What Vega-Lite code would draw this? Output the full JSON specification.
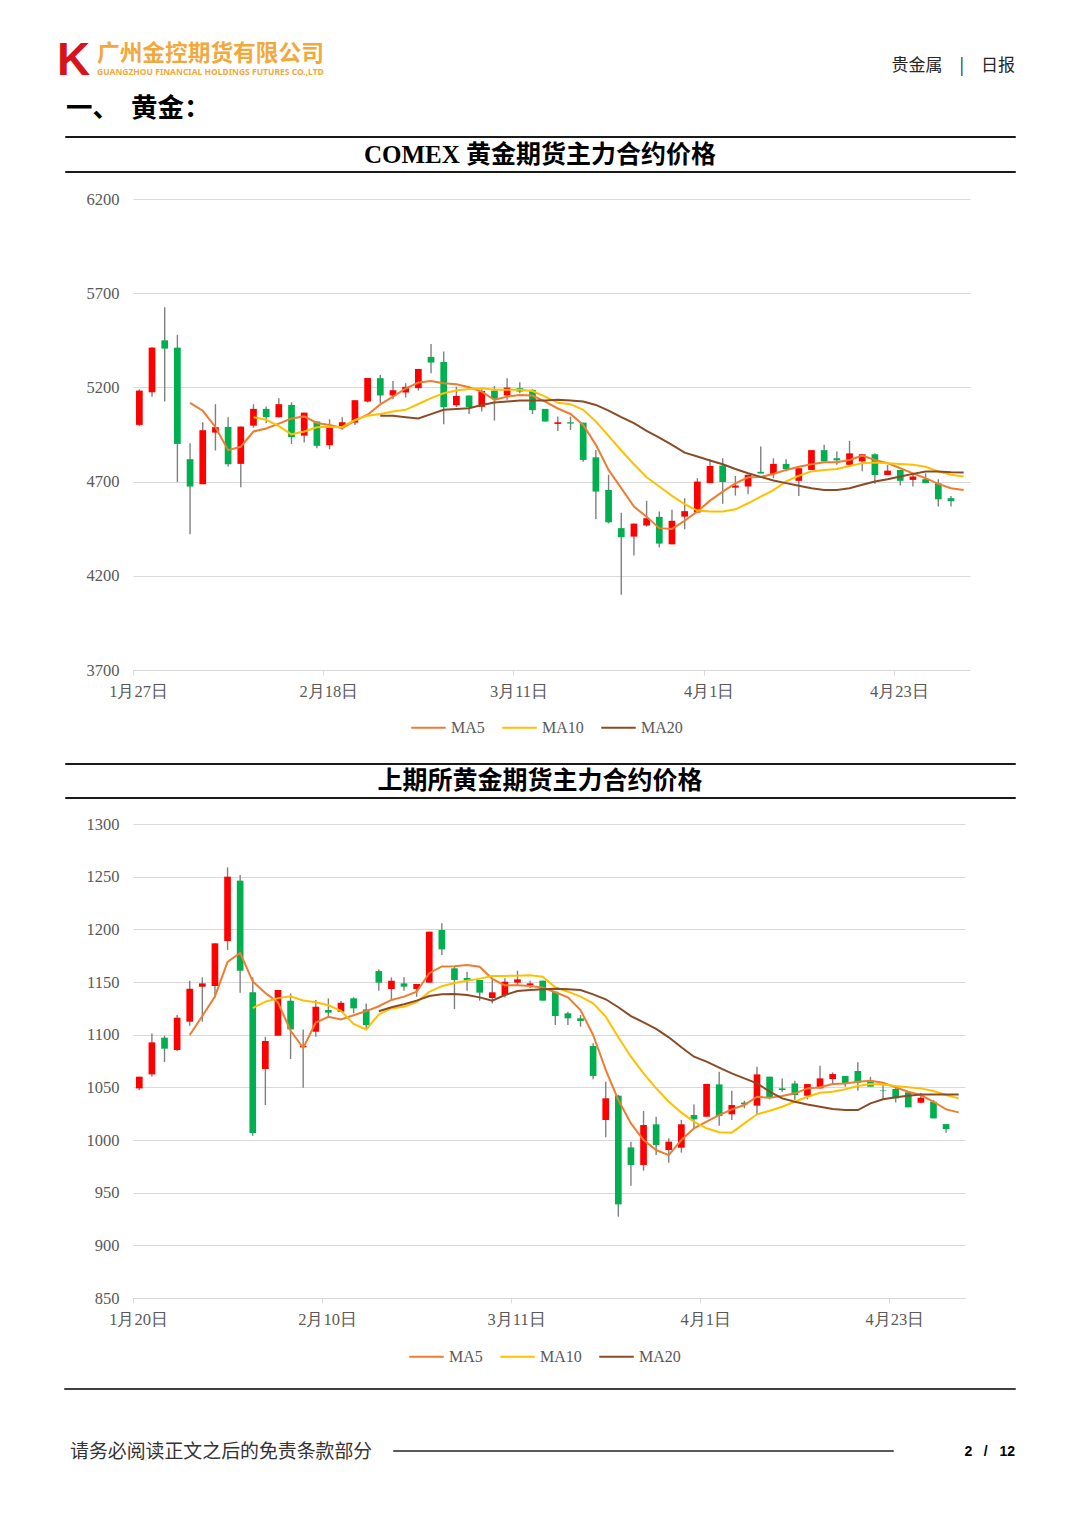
{
"$schema": "https://vega.github.io/schema/vega-lite/v6.json",
"padding": 0,
"background": "white",
"bounds": "flush",
"spacing": 0,
"resolve": {"scale": {"color": "independent"}, "legend": {"color": "independent"}},
"config": {"view": {"stroke": null}, "concat": {"spacing": 0}, "title": {"offset": 0, "frame": "group", "baseline": "alphabetic", "orient": "top"}},
"datasets": {
"comex": [
{"d":"1月27日","o":5001,"h":5190,"l":4996,"c":5183},
{"d":"1月28日","o":5174,"h":5415,"l":5151,"c":5411},
{"d":"1月29日","o":5450,"h":5625,"l":5125,"c":5406},
{"d":"1月30日","o":5411,"h":5479,"l":4698,"c":4900},
{"d":"2月2日","o":4819,"h":4904,"l":4421,"c":4674,"MA5":5118},
{"d":"2月3日","o":4686,"h":5015,"l":4686,"c":4973,"MA5":5076},
{"d":"2月4日","o":4960,"h":5111,"l":4865,"c":4989,"MA5":4990},
{"d":"2月5日","o":4990,"h":5042,"l":4780,"c":4792,"MA5":4867},
{"d":"2月6日","o":4794,"h":4992,"l":4670,"c":4992,"MA5":4885},
{"d":"2月9日","o":4997,"h":5111,"l":4986,"c":5086,"MA5":4966,"MA10":5042},
{"d":"2月10日","o":5086,"h":5098,"l":5010,"c":5042,"MA5":4982,"MA10":5028},
{"d":"2月11日","o":5042,"h":5143,"l":5040,"c":5111,"MA5":5008,"MA10":4994},
{"d":"2月12日","o":5107,"h":5121,"l":4900,"c":4936,"MA5":5035,"MA10":4951},
{"d":"2月13日","o":4944,"h":5066,"l":4907,"c":5066,"MA5":5046,"MA10":4966},
{"d":"2月17日","o":5019,"h":5019,"l":4877,"c":4890,"MA5":5011,"MA10":4988},
{"d":"2月18日","o":4893,"h":5031,"l":4872,"c":4992,"MA5":5000,"MA10":4991},
{"d":"2月19日","o":4992,"h":5042,"l":4975,"c":5015,"MA5":4984,"MA10":4990},
{"d":"2月20日","o":5013,"h":5132,"l":5001,"c":5132,"MA5":5024,"MA10":5027},
{"d":"2月23日","o":5125,"h":5250,"l":5120,"c":5250,"MA5":5055,"MA10":5050},
{"d":"2月24日","o":5249,"h":5266,"l":5116,"c":5157,"MA5":5110,"MA10":5059,"MA20":5050},
{"d":"2月25日","o":5157,"h":5234,"l":5137,"c":5185,"MA5":5151,"MA10":5072,"MA20":5049},
{"d":"2月26日","o":5173,"h":5222,"l":5146,"c":5203,"MA5":5194,"MA10":5081,"MA20":5042},
{"d":"2月27日","o":5196,"h":5298,"l":5183,"c":5298,"MA5":5226,"MA10":5112,"MA20":5035},
{"d":"3月2日","o":5362,"h":5431,"l":5275,"c":5332,"MA5":5234,"MA10":5143,"MA20":5058},
{"d":"3月3日","o":5335,"h":5390,"l":5004,"c":5095,"MA5":5222,"MA10":5169,"MA20":5081},
{"d":"3月4日","o":5105,"h":5204,"l":5095,"c":5155,"MA5":5217,"MA10":5183,"MA20":5086},
{"d":"3月5日","o":5157,"h":5157,"l":5059,"c":5095,"MA5":5201,"MA10":5192,"MA20":5089},
{"d":"3月6日","o":5097,"h":5195,"l":5072,"c":5181,"MA5":5178,"MA10":5196,"MA20":5107},
{"d":"3月9日","o":5183,"h":5208,"l":5024,"c":5139,"MA5":5134,"MA10":5187,"MA20":5120},
{"d":"3月10日","o":5157,"h":5249,"l":5134,"c":5199,"MA5":5151,"MA10":5187,"MA20":5125},
{"d":"3月11日","o":5196,"h":5227,"l":5169,"c":5178,"MA5":5160,"MA10":5187,"MA20":5130},
{"d":"3月12日","o":5187,"h":5190,"l":5058,"c":5079,"MA5":5157,"MA10":5181,"MA20":5130},
{"d":"3月13日","o":5086,"h":5086,"l":5019,"c":5019,"MA5":5125,"MA10":5151,"MA20":5130},
{"d":"3月16日","o":5006,"h":5045,"l":4969,"c":5015,"MA5":5088,"MA10":5118,"MA20":5134},
{"d":"3月17日","o":5015,"h":5045,"l":4974,"c":5008,"MA5":5059,"MA10":5111,"MA20":5130},
{"d":"3月18日","o":5013,"h":5013,"l":4806,"c":4815,"MA5":5001,"MA10":5081,"MA20":5125},
{"d":"3月19日","o":4829,"h":4868,"l":4502,"c":4647,"MA5":4895,"MA10":5019,"MA20":5107},
{"d":"3月20日","o":4656,"h":4736,"l":4478,"c":4484,"MA5":4762,"MA10":4943,"MA20":5077},
{"d":"3月23日","o":4453,"h":4535,"l":4099,"c":4405,"MA5":4665,"MA10":4865,"MA20":5042},
{"d":"3月24日","o":4408,"h":4477,"l":4308,"c":4477,"MA5":4567,"MA10":4792,"MA20":5010},
{"d":"3月25日","o":4467,"h":4598,"l":4461,"c":4506,"MA5":4514,"MA10":4723,"MA20":4969},
{"d":"3月26日","o":4513,"h":4541,"l":4350,"c":4371,"MA5":4453,"MA10":4674,"MA20":4934},
{"d":"3月27日","o":4367,"h":4550,"l":4367,"c":4492,"MA5":4449,"MA10":4624,"MA20":4895},
{"d":"3月30日","o":4514,"h":4612,"l":4447,"c":4543,"MA5":4492,"MA10":4580,"MA20":4854},
{"d":"3月31日","o":4536,"h":4718,"l":4536,"c":4700,"MA5":4541,"MA10":4546,"MA20":4833},
{"d":"4月1日","o":4692,"h":4819,"l":4692,"c":4783,"MA5":4599,"MA10":4541,"MA20":4812},
{"d":"4月2日","o":4785,"h":4824,"l":4582,"c":4698,"MA5":4647,"MA10":4541,"MA20":4792},
{"d":"4月6日","o":4668,"h":4730,"l":4626,"c":4679,"MA5":4691,"MA10":4553,"MA20":4767},
{"d":"4月7日","o":4674,"h":4736,"l":4633,"c":4736,"MA5":4723,"MA10":4585,"MA20":4744},
{"d":"4月8日","o":4752,"h":4886,"l":4743,"c":4743,"MA5":4725,"MA10":4620,"MA20":4725},
{"d":"4月9日","o":4741,"h":4824,"l":4718,"c":4794,"MA5":4740,"MA10":4655,"MA20":4706},
{"d":"4月10日","o":4794,"h":4819,"l":4755,"c":4766,"MA5":4762,"MA10":4701,"MA20":4692},
{"d":"4月13日","o":4704,"h":4771,"l":4624,"c":4771,"MA5":4779,"MA10":4731,"MA20":4678},
{"d":"4月14日","o":4762,"h":4867,"l":4762,"c":4867,"MA5":4792,"MA10":4754,"MA20":4665},
{"d":"4月15日","o":4867,"h":4895,"l":4807,"c":4807,"MA5":4803,"MA10":4762,"MA20":4656},
{"d":"4月16日","o":4824,"h":4860,"l":4789,"c":4813,"MA5":4803,"MA10":4767,"MA20":4656},
{"d":"4月17日","o":4789,"h":4916,"l":4789,"c":4850,"MA5":4815,"MA10":4783,"MA20":4665},
{"d":"4月20日","o":4807,"h":4845,"l":4755,"c":4845,"MA5":4838,"MA10":4798,"MA20":4683},
{"d":"4月21日","o":4845,"h":4850,"l":4688,"c":4735,"MA5":4815,"MA10":4801,"MA20":4701},
{"d":"4月22日","o":4735,"h":4789,"l":4735,"c":4758,"MA5":4798,"MA10":4798,"MA20":4713},
{"d":"4月23日","o":4762,"h":4762,"l":4679,"c":4704,"MA5":4771,"MA10":4794,"MA20":4727},
{"d":"4月24日","o":4709,"h":4744,"l":4674,"c":4727,"MA5":4744,"MA10":4789,"MA20":4741},
{"d":"4月27日","o":4713,"h":4744,"l":4692,"c":4692,"MA5":4718,"MA10":4779,"MA20":4754},
{"d":"4月28日","o":4691,"h":4713,"l":4568,"c":4606,"MA5":4688,"MA10":4754,"MA20":4754},
{"d":"4月29日","o":4612,"h":4624,"l":4568,"c":4596,"MA5":4665,"MA10":4736,"MA20":4750},
{"d":"4月30日","MA5":4656,"MA10":4727,"MA20":4748}
],
"shfe": [
{"d":"1月20日","o":1049,"h":1060.1,"l":1047.4,"c":1060.1},
{"d":"1月21日","o":1062.3,"h":1101.2,"l":1060.1,"c":1092.7},
{"d":"1月22日","o":1097.1,"h":1099,"l":1074,"c":1086.7},
{"d":"1月23日","o":1085.4,"h":1118.6,"l":1084.5,"c":1116.1},
{"d":"1月26日","o":1112.3,"h":1151.2,"l":1108.5,"c":1143.6,"MA5":1099.7},
{"d":"1月27日","o":1145.5,"h":1154.4,"l":1112.3,"c":1148.7,"MA5":1117.7},
{"d":"1月28日","o":1146.2,"h":1186.7,"l":1135.4,"c":1186.7,"MA5":1136.3},
{"d":"1月29日","o":1188.9,"h":1258.8,"l":1180.4,"c":1250,"MA5":1169},
{"d":"1月30日","o":1246.2,"h":1251.6,"l":1139.8,"c":1160.7,"MA5":1177.5},
{"d":"2月2日","o":1140.2,"h":1154.4,"l":1004,"c":1006.6,"MA5":1150.5,"MA10":1125.2},
{"d":"2月3日","o":1067.4,"h":1098,"l":1033.2,"c":1094,"MA5":1139.6,"MA10":1131.3},
{"d":"2月4日","o":1099,"h":1142.4,"l":1099,"c":1142.4,"MA5":1130.7,"MA10":1134.7},
{"d":"2月5日","o":1132.2,"h":1139.2,"l":1076.9,"c":1105,"MA5":1103.7,"MA10":1136.5},
{"d":"2月6日","o":1088,"h":1105,"l":1049.6,"c":1089.5,"MA5":1087.5,"MA10":1132.4},
{"d":"2月9日","o":1102.8,"h":1132.9,"l":1098,"c":1126.5,"MA5":1111.5,"MA10":1130.7},
{"d":"2月10日","o":1123.4,"h":1134.5,"l":1117,"c":1120.9,"MA5":1116.9,"MA10":1127.9},
{"d":"2月11日","o":1121.8,"h":1132,"l":1121.8,"c":1130.3,"MA5":1114.4,"MA10":1122.6},
{"d":"2月12日","o":1134.5,"h":1135.5,"l":1120.2,"c":1125,"MA5":1118.4,"MA10":1110.1},
{"d":"2月13日","o":1124,"h":1129.7,"l":1106,"c":1109.2,"MA5":1122.4,"MA10":1104.9},
{"d":"2月24日","o":1160.4,"h":1162,"l":1141.8,"c":1149.4,"MA5":1127,"MA10":1119.2,"MA20":1122.2},
{"d":"2月25日","o":1143.4,"h":1154.4,"l":1133.5,"c":1151.3,"MA5":1133,"MA10":1124.9,"MA20":1126},
{"d":"2月26日","o":1148.7,"h":1154.4,"l":1141.8,"c":1145.6,"MA5":1136.1,"MA10":1126.5,"MA20":1128.8},
{"d":"2月27日","o":1143.4,"h":1148.1,"l":1136,"c":1148.1,"MA5":1140.7,"MA10":1130.8,"MA20":1132.3},
{"d":"3月2日","o":1149.4,"h":1197.8,"l":1149.4,"c":1197.8,"MA5":1158.4,"MA10":1140.6,"MA20":1136.7},
{"d":"3月3日","o":1199.4,"h":1205.7,"l":1175.6,"c":1181,"MA5":1164.8,"MA10":1146.0,"MA20":1138.3},
{"d":"3月4日","o":1163,"h":1164.5,"l":1124.3,"c":1151.9,"MA5":1164.9,"MA10":1149.1,"MA20":1138.6},
{"d":"3月5日","o":1153.8,"h":1159.8,"l":1141.8,"c":1151.9,"MA5":1166.1,"MA10":1151.1,"MA20":1137.6},
{"d":"3月6日","o":1151.9,"h":1151.9,"l":1132.3,"c":1139.9,"MA5":1164.5,"MA10":1153.2,"MA20":1135.4},
{"d":"3月9日","o":1134.8,"h":1153.5,"l":1129.7,"c":1140.2,"MA5":1153,"MA10":1155.7,"MA20":1132.3},
{"d":"3月10日","o":1137.6,"h":1153.5,"l":1135.4,"c":1150.3,"MA5":1146.8,"MA10":1155.8,"MA20":1137.6},
{"d":"3月11日","o":1149.4,"h":1160.8,"l":1146.2,"c":1152.5,"MA5":1147,"MA10":1156,"MA20":1141.4},
{"d":"3月12日","o":1147.1,"h":1151.3,"l":1144,"c":1148.7,"MA5":1146.3,"MA10":1156.3,"MA20":1142.4},
{"d":"3月13日","o":1151.3,"h":1151.3,"l":1132.3,"c":1132.3,"MA5":1144.8,"MA10":1155,"MA20":1143},
{"d":"3月16日","o":1140.8,"h":1140.8,"l":1109.2,"c":1117.7,"MA5":1140.3,"MA10":1145,"MA20":1143.5},
{"d":"3月17日","o":1120.3,"h":1121.8,"l":1109.2,"c":1115.5,"MA5":1135.4,"MA10":1140.8,"MA20":1143},
{"d":"3月18日","o":1115.5,"h":1118.7,"l":1107.6,"c":1113,"MA5":1123.4,"MA10":1136.1,"MA20":1142.4},
{"d":"3月19日","o":1089.2,"h":1091.8,"l":1057.6,"c":1060.8,"MA5":1099.7,"MA10":1129.8,"MA20":1138.3},
{"d":"3月20日","o":1019,"h":1055.4,"l":1002.5,"c":1039.6,"MA5":1066.5,"MA10":1117.1,"MA20":1133.6},
{"d":"3月23日","o":1042.1,"h":1042.7,"l":927.2,"c":938.9,"MA5":1038,"MA10":1097.5,"MA20":1126},
{"d":"3月24日","o":993,"h":998.4,"l":956.6,"c":976.3,"MA5":1015.8,"MA10":1079.1,"MA20":1117.7},
{"d":"3月25日","o":976.3,"h":1027.5,"l":970.9,"c":1014.2,"MA5":1000,"MA10":1063.3,"MA20":1111.7},
{"d":"3月26日","o":1014.9,"h":1022.1,"l":985.7,"c":995.2,"MA5":990.5,"MA10":1049.1,"MA20":1105.4},
{"d":"3月27日","o":990.5,"h":1001.6,"l":978.5,"c":998.4,"MA5":985.7,"MA10":1036.4,"MA20":1097.5},
{"d":"3月30日","o":992.7,"h":1019,"l":988,"c":1014.9,"MA5":1000,"MA10":1026,"MA20":1088},
{"d":"3月31日","o":1023.7,"h":1033.8,"l":1011.1,"c":1019.6,"MA5":1011.1,"MA10":1017.4,"MA20":1079.1},
{"d":"4月1日","o":1022.1,"h":1053.2,"l":1022.1,"c":1053.2,"MA5":1017.4,"MA10":1011.1,"MA20":1074.4},
{"d":"4月2日","o":1052.8,"h":1064.9,"l":1013.6,"c":1022.8,"MA5":1023.7,"MA10":1007.3,"MA20":1068.7},
{"d":"4月3日","o":1024.4,"h":1046.8,"l":1019,"c":1033.2,"MA5":1029.1,"MA10":1007,"MA20":1063.3},
{"d":"4月7日","o":1035.5,"h":1037.3,"l":1030.1,"c":1033.8,"MA5":1033.2,"MA10":1015.8,"MA20":1058.5},
{"d":"4月8日","o":1032.6,"h":1069.6,"l":1023.7,"c":1062.3,"MA5":1041.1,"MA10":1024.4,"MA20":1053.8},
{"d":"4月9日","o":1060.1,"h":1060.1,"l":1038.6,"c":1040.1,"MA5":1040,"MA10":1027.7,"MA20":1046},
{"d":"4月10日","o":1049,"h":1058.5,"l":1045.8,"c":1047.4,"MA5":1041.7,"MA10":1031.6,"MA20":1039.5},
{"d":"4月13日","o":1053.7,"h":1056.3,"l":1037.9,"c":1042.7,"MA5":1044.3,"MA10":1036.3,"MA20":1036.3},
{"d":"4月14日","o":1042,"h":1053.1,"l":1038.6,"c":1053.1,"MA5":1049,"MA10":1041.1,"MA20":1033.8},
{"d":"4月15日","o":1049,"h":1070.5,"l":1049,"c":1058.5,"MA5":1050,"MA10":1044.9,"MA20":1031.6},
{"d":"4月16日","o":1057.9,"h":1064.2,"l":1053.7,"c":1062.6,"MA5":1053.1,"MA10":1045.8,"MA20":1029.4},
{"d":"4月17日","o":1060.7,"h":1060.7,"l":1050.6,"c":1053.7,"MA5":1053.7,"MA10":1048.1,"MA20":1028.4},
{"d":"4月20日","o":1065.5,"h":1073.7,"l":1046.8,"c":1054.4,"MA5":1055.3,"MA10":1051.2,"MA20":1028.4},
{"d":"4月21日","o":1056.3,"h":1060.1,"l":1050.6,"c":1050.6,"MA5":1056.3,"MA10":1053.1,"MA20":1034.8},
{"d":"4月22日","o":1047.5,"h":1054.4,"l":1038.6,"c":1047,"MA5":1054.4,"MA10":1052.8,"MA20":1038.6},
{"d":"4月23日","o":1048.4,"h":1050.6,"l":1035.7,"c":1039.5,"MA5":1050,"MA10":1051.2,"MA20":1040.5},
{"d":"4月24日","o":1045.2,"h":1045.2,"l":1031,"c":1031,"MA5":1045.8,"MA10":1050,"MA20":1042},
{"d":"4月27日","o":1035.4,"h":1044.9,"l":1035,"c":1040.1,"MA5":1042.7,"MA10":1049,"MA20":1043.3},
{"d":"4月28日","o":1036.3,"h":1037.9,"l":1020.5,"c":1020.5,"MA5":1036.3,"MA10":1046.5,"MA20":1043.3},
{"d":"4月29日","o":1015.1,"h":1015.1,"l":1006.9,"c":1010.4,"MA5":1029.1,"MA10":1042.7,"MA20":1043.3},
{"d":"4月30日","MA5":1026.2,"MA10":1039.5,"MA20":1043.3}
]
},
"vconcat": [
{"hconcat": [
 {"width": 57, "height": 62, "data": {"values": []}, "mark": {"type": "point", "opacity": 0}},
 {"width": 40, "height": 62, "data": {"values": []}, "mark": {"type": "point", "opacity": 0},
  "title": {"text": "K", "anchor": "start", "baseline": "alphabetic", "dy": 125, "font": "Liberation Sans", "fontSize": 46, "fontWeight": "bold", "color": "#D7141A"}},
 {"width": 796, "height": 62, "data": {"values": []}, "mark": {"type": "point", "opacity": 0},
  "title": {"text": "广州金控期货有限公司", "anchor": "start", "baseline": "alphabetic", "dy": 88, "font": "Noto Sans CJK SC", "fontSize": 22.7, "fontWeight": "bold", "color": "#F2A93B"}},
 {"width": 122, "height": 62, "data": {"values": []}, "mark": {"type": "point", "opacity": 0},
  "title": {"text": "贵金属　|　日报", "anchor": "end", "baseline": "alphabetic", "dy": 92, "font": "Noto Sans CJK SC", "fontSize": 17, "fontWeight": "normal", "color": "#262626"}}
], "spacing": 0, "bounds": "flush"},
{"width": 1, "height": 62, "data": {"values": []}, "mark": {"type": "point", "opacity": 0}},
{"hconcat": [
 {"width": 97, "height": 74, "data": {"values": []}, "mark": {"type": "point", "opacity": 0},
  "title": {"text": "一、\u00a0\u00a0黄金：", "anchor": "start", "baseline": "alphabetic", "dx": 66, "dy": 85, "font": "Noto Sans CJK SC", "fontSize": 26.5, "fontWeight": "bold", "color": "#000000"}},
 {"width": 300, "height": 74, "data": {"values": []}, "mark": {"type": "point", "opacity": 0},
  "title": {"text": "GUANGZHOU FINANCIAL HOLDINGS FUTURES CO.,LTD", "anchor": "start", "baseline": "alphabetic", "dy": 25, "font": "Noto Sans", "fontSize": 8.5, "fontWeight": "bold", "color": "#F2A93B"}}
], "spacing": 0, "bounds": "flush"},
{"width": 1, "height": 74, "data": {"values": []}, "mark": {"type": "point", "opacity": 0}},
{"hconcat": [
 {"width": 65, "height": 1, "data": {"values": []}, "mark": {"type": "point", "opacity": 0}},
 {"width": 950, "height": 1, "data": {"values": []}, "mark": {"type": "point", "opacity": 0}, "view": {"stroke": "#1a1a1a", "strokeWidth": 1}}
], "spacing": 0, "bounds": "flush"},
{"width": 1, "height": 1, "data": {"values": []}, "mark": {"type": "point", "opacity": 0}},
{"hconcat": [
 {"width": 65, "height": 34, "data": {"values": []}, "mark": {"type": "point", "opacity": 0}},
 {"width": 950, "height": 34, "data": {"values": []}, "mark": {"type": "point", "opacity": 0},
  "title": {"text": "COMEX 黄金期货主力合约价格", "anchor": "middle", "baseline": "alphabetic", "dy": 55, "font": "Liberation Serif, Noto Sans CJK SC", "fontSize": 25, "fontWeight": "bold", "color": "#000000"}}
], "spacing": 0, "bounds": "flush"},
{"width": 1, "height": 34, "data": {"values": []}, "mark": {"type": "point", "opacity": 0}},
{"hconcat": [
 {"width": 65, "height": 1, "data": {"values": []}, "mark": {"type": "point", "opacity": 0}},
 {"width": 950, "height": 1, "data": {"values": []}, "mark": {"type": "point", "opacity": 0}, "view": {"stroke": "#1a1a1a", "strokeWidth": 1}}
], "spacing": 0, "bounds": "flush"},
{"width": 1, "height": 28, "data": {"values": []}, "mark": {"type": "point", "opacity": 0}},
{"hconcat": [
 {"width": 133, "height": 471, "data": {"values": []}, "mark": {"type": "point", "opacity": 0}},
 {"width": 837, "height": 471,
  "data": {"name": "comex"},
  "encoding": {"x": {"field": "d", "type": "ordinal",
    "scale": {"domain": ["1月27日","1月28日","1月29日","1月30日","2月2日","2月3日","2月4日","2月5日","2月6日","2月9日","2月10日","2月11日","2月12日","2月13日","2月17日","2月18日","2月19日","2月20日","2月23日","2月24日","2月25日","2月26日","2月27日","3月2日","3月3日","3月4日","3月5日","3月6日","3月9日","3月10日","3月11日","3月12日","3月13日","3月16日","3月17日","3月18日","3月19日","3月20日","3月23日","3月24日","3月25日","3月26日","3月27日","3月30日","3月31日","4月1日","4月2日","4月6日","4月7日","4月8日","4月9日","4月10日","4月13日","4月14日","4月15日","4月16日","4月17日","4月20日","4月21日","4月22日","4月23日","4月24日","4月27日","4月28日","4月29日","4月30日"], "paddingInner": 0, "paddingOuter": 0},
    "axis": {"values": ["1月27日","2月18日","3月11日","4月1日","4月23日"], "title": null, "tickOffset": -6.3, "labelOffset": 5, "labelAngle": 0, "tickSize": 5, "tickColor": "#D9D9D9", "domainColor": "#D9D9D9", "labelFont": "Liberation Serif", "labelFontSize": 16.5, "labelColor": "#595959", "labelPadding": 8, "grid": false}}},
  "layer": [
   {"mark": {"type": "rule", "color": "#808080", "strokeWidth": 1.4},
    "encoding": {"y": {"field": "l", "type": "quantitative", "scale": {"domain": [3700, 6200], "nice": false, "zero": false},
      "axis": {"values": [3700,4200,4700,5200,5700,6200], "format": "d", "title": null, "domain": false, "ticks": false, "grid": true, "gridColor": "#D9D9D9", "gridWidth": 1, "labelFont": "Liberation Serif", "labelFontSize": 16.5, "labelColor": "#595959", "labelPadding": 14}},
     "y2": {"field": "h"}}},
   {"mark": {"type": "bar", "width": {"band": 0.53}},
    "encoding": {"y": {"field": "o", "type": "quantitative", "scale": {"domain": [3700, 6200], "nice": false, "zero": false},
      "axis": {"values": [3700,4200,4700,5200,5700,6200], "format": "d", "title": null, "domain": false, "ticks": false, "grid": true, "gridColor": "#D9D9D9", "gridWidth": 1, "labelFont": "Liberation Serif", "labelFontSize": 16.5, "labelColor": "#595959", "labelPadding": 14}},
     "y2": {"field": "c"},
     "color": {"condition": {"test": "datum.c >= datum.o", "value": "#FF0000"}, "value": "#00B050"}}},
   {"transform": [{"fold": ["MA5","MA10","MA20"], "as": ["k","v"]}],
    "mark": {"type": "line", "strokeWidth": 2},
    "encoding": {"y": {"field": "v", "type": "quantitative", "scale": {"domain": [3700, 6200], "nice": false, "zero": false},
      "axis": {"values": [3700,4200,4700,5200,5700,6200], "format": "d", "title": null, "domain": false, "ticks": false, "grid": true, "gridColor": "#D9D9D9", "gridWidth": 1, "labelFont": "Liberation Serif", "labelFontSize": 16.5, "labelColor": "#595959", "labelPadding": 14}},
     "color": {"field": "k", "type": "nominal", "scale": {"domain": ["MA5","MA10","MA20"], "range": ["#ED7D31","#FFC000","#8A4B26"]},
       "legend": {"orient": "none", "legendX": 277, "legendY": 510, "direction": "horizontal", "title": null, "symbolType": "stroke", "symbolSize": 1190, "symbolStrokeWidth": 2, "labelFont": "Liberation Serif", "labelFontSize": 16, "labelColor": "#595959", "columnPadding": 13, "labelOffset": 4}},
     "order": {"value": null}}}
  ]}
], "spacing": 0, "bounds": "flush", "resolve": {"scale": {"color": "independent"}, "legend": {"color": "independent"}}},
{"width": 1, "height": 564, "data": {"values": []}, "mark": {"type": "point", "opacity": 0}},
{"hconcat": [
 {"width": 65, "height": 1, "data": {"values": []}, "mark": {"type": "point", "opacity": 0}},
 {"width": 950, "height": 1, "data": {"values": []}, "mark": {"type": "point", "opacity": 0}, "view": {"stroke": "#1a1a1a", "strokeWidth": 1}}
], "spacing": 0, "bounds": "flush"},
{"width": 1, "height": 1, "data": {"values": []}, "mark": {"type": "point", "opacity": 0}},
{"hconcat": [
 {"width": 65, "height": 33, "data": {"values": []}, "mark": {"type": "point", "opacity": 0}},
 {"width": 950, "height": 33, "data": {"values": []}, "mark": {"type": "point", "opacity": 0},
  "title": {"text": "上期所黄金期货主力合约价格", "anchor": "middle", "baseline": "alphabetic", "dy": 54, "font": "Noto Sans CJK SC", "fontSize": 25, "fontWeight": "bold", "color": "#000000"}}
], "spacing": 0, "bounds": "flush"},
{"width": 1, "height": 33, "data": {"values": []}, "mark": {"type": "point", "opacity": 0}},
{"hconcat": [
 {"width": 65, "height": 1, "data": {"values": []}, "mark": {"type": "point", "opacity": 0}},
 {"width": 950, "height": 1, "data": {"values": []}, "mark": {"type": "point", "opacity": 0}, "view": {"stroke": "#1a1a1a", "strokeWidth": 1}}
], "spacing": 0, "bounds": "flush"},
{"width": 1, "height": 27, "data": {"values": []}, "mark": {"type": "point", "opacity": 0}},
{"hconcat": [
 {"width": 133, "height": 474, "data": {"values": []}, "mark": {"type": "point", "opacity": 0}},
 {"width": 832, "height": 474,
  "data": {"name": "shfe"},
  "encoding": {"x": {"field": "d", "type": "ordinal",
    "scale": {"domain": ["1月20日","1月21日","1月22日","1月23日","1月26日","1月27日","1月28日","1月29日","1月30日","2月2日","2月3日","2月4日","2月5日","2月6日","2月9日","2月10日","2月11日","2月12日","2月13日","2月24日","2月25日","2月26日","2月27日","3月2日","3月3日","3月4日","3月5日","3月6日","3月9日","3月10日","3月11日","3月12日","3月13日","3月16日","3月17日","3月18日","3月19日","3月20日","3月23日","3月24日","3月25日","3月26日","3月27日","3月30日","3月31日","4月1日","4月2日","4月3日","4月7日","4月8日","4月9日","4月10日","4月13日","4月14日","4月15日","4月16日","4月17日","4月20日","4月21日","4月22日","4月23日","4月24日","4月27日","4月28日","4月29日","4月30日"], "paddingInner": 0, "paddingOuter": 0},
    "axis": {"values": ["1月20日","2月10日","3月11日","4月1日","4月23日"], "title": null, "tickOffset": -6.3, "labelOffset": 5, "labelAngle": 0, "tickSize": 5, "tickColor": "#D9D9D9", "domainColor": "#D9D9D9", "labelFont": "Liberation Serif", "labelFontSize": 16.5, "labelColor": "#595959", "labelPadding": 8, "grid": false}}},
  "layer": [
   {"mark": {"type": "rule", "color": "#808080", "strokeWidth": 1.4},
    "encoding": {"y": {"field": "l", "type": "quantitative", "scale": {"domain": [850, 1300], "nice": false, "zero": false},
      "axis": {"values": [850,900,950,1000,1050,1100,1150,1200,1250,1300], "format": "d", "title": null, "domain": false, "ticks": false, "grid": true, "gridColor": "#D9D9D9", "gridWidth": 1, "labelFont": "Liberation Serif", "labelFontSize": 16.5, "labelColor": "#595959", "labelPadding": 14}},
     "y2": {"field": "h"}}},
   {"mark": {"type": "bar", "width": {"band": 0.53}},
    "encoding": {"y": {"field": "o", "type": "quantitative", "scale": {"domain": [850, 1300], "nice": false, "zero": false},
      "axis": {"values": [850,900,950,1000,1050,1100,1150,1200,1250,1300], "format": "d", "title": null, "domain": false, "ticks": false, "grid": true, "gridColor": "#D9D9D9", "gridWidth": 1, "labelFont": "Liberation Serif", "labelFontSize": 16.5, "labelColor": "#595959", "labelPadding": 14}},
     "y2": {"field": "c"},
     "color": {"condition": {"test": "datum.c >= datum.o", "value": "#FF0000"}, "value": "#00B050"}}},
   {"transform": [{"fold": ["MA5","MA10","MA20"], "as": ["k","v"]}],
    "mark": {"type": "line", "strokeWidth": 2},
    "encoding": {"y": {"field": "v", "type": "quantitative", "scale": {"domain": [850, 1300], "nice": false, "zero": false},
      "axis": {"values": [850,900,950,1000,1050,1100,1150,1200,1250,1300], "format": "d", "title": null, "domain": false, "ticks": false, "grid": true, "gridColor": "#D9D9D9", "gridWidth": 1, "labelFont": "Liberation Serif", "labelFontSize": 16.5, "labelColor": "#595959", "labelPadding": 14}},
     "color": {"field": "k", "type": "nominal", "scale": {"domain": ["MA5","MA10","MA20"], "range": ["#ED7D31","#FFC000","#8A4B26"]},
       "legend": {"orient": "none", "legendX": 275, "legendY": 514, "direction": "horizontal", "title": null, "symbolType": "stroke", "symbolSize": 1190, "symbolStrokeWidth": 2, "labelFont": "Liberation Serif", "labelFontSize": 16, "labelColor": "#595959", "columnPadding": 13, "labelOffset": 4}},
     "order": {"value": null}}}
  ]}
], "spacing": 0, "bounds": "flush", "resolve": {"scale": {"color": "independent"}, "legend": {"color": "independent"}}},
{"width": 1, "height": 564, "data": {"values": []}, "mark": {"type": "point", "opacity": 0}},
{"hconcat": [
 {"width": 64, "height": 1, "data": {"values": []}, "mark": {"type": "point", "opacity": 0}},
 {"width": 951, "height": 1, "data": {"values": []}, "mark": {"type": "point", "opacity": 0}, "view": {"stroke": "#404040", "strokeWidth": 1}}
], "spacing": 0, "bounds": "flush"},
{"width": 1, "height": 62, "data": {"values": []}, "mark": {"type": "point", "opacity": 0}},
{"hconcat": [
 {"width": 393, "height": 1, "data": {"values": []}, "mark": {"type": "point", "opacity": 0},
  "title": {"text": "请务必阅读正文之后的免责条款部分", "anchor": "start", "baseline": "alphabetic", "dx": 70, "dy": 31, "font": "Noto Sans CJK SC", "fontSize": 18.9, "fontWeight": "normal", "color": "#333333"}},
 {"width": 500, "height": 1, "data": {"values": []}, "mark": {"type": "point", "opacity": 0}, "view": {"stroke": "#595959", "strokeWidth": 1}},
 {"width": 122, "height": 1, "data": {"values": []}, "mark": {"type": "point", "opacity": 0},
  "title": {"text": "2\u00a0\u00a0\u00a0/\u00a0\u00a0\u00a012", "anchor": "end", "baseline": "alphabetic", "dy": 24, "font": "Liberation Sans", "fontSize": 14, "fontWeight": "bold", "color": "#000000"}}
], "spacing": 0, "bounds": "flush"},
{"width": 1, "height": 77, "data": {"values": []}, "mark": {"type": "point", "opacity": 0}}
]
}
